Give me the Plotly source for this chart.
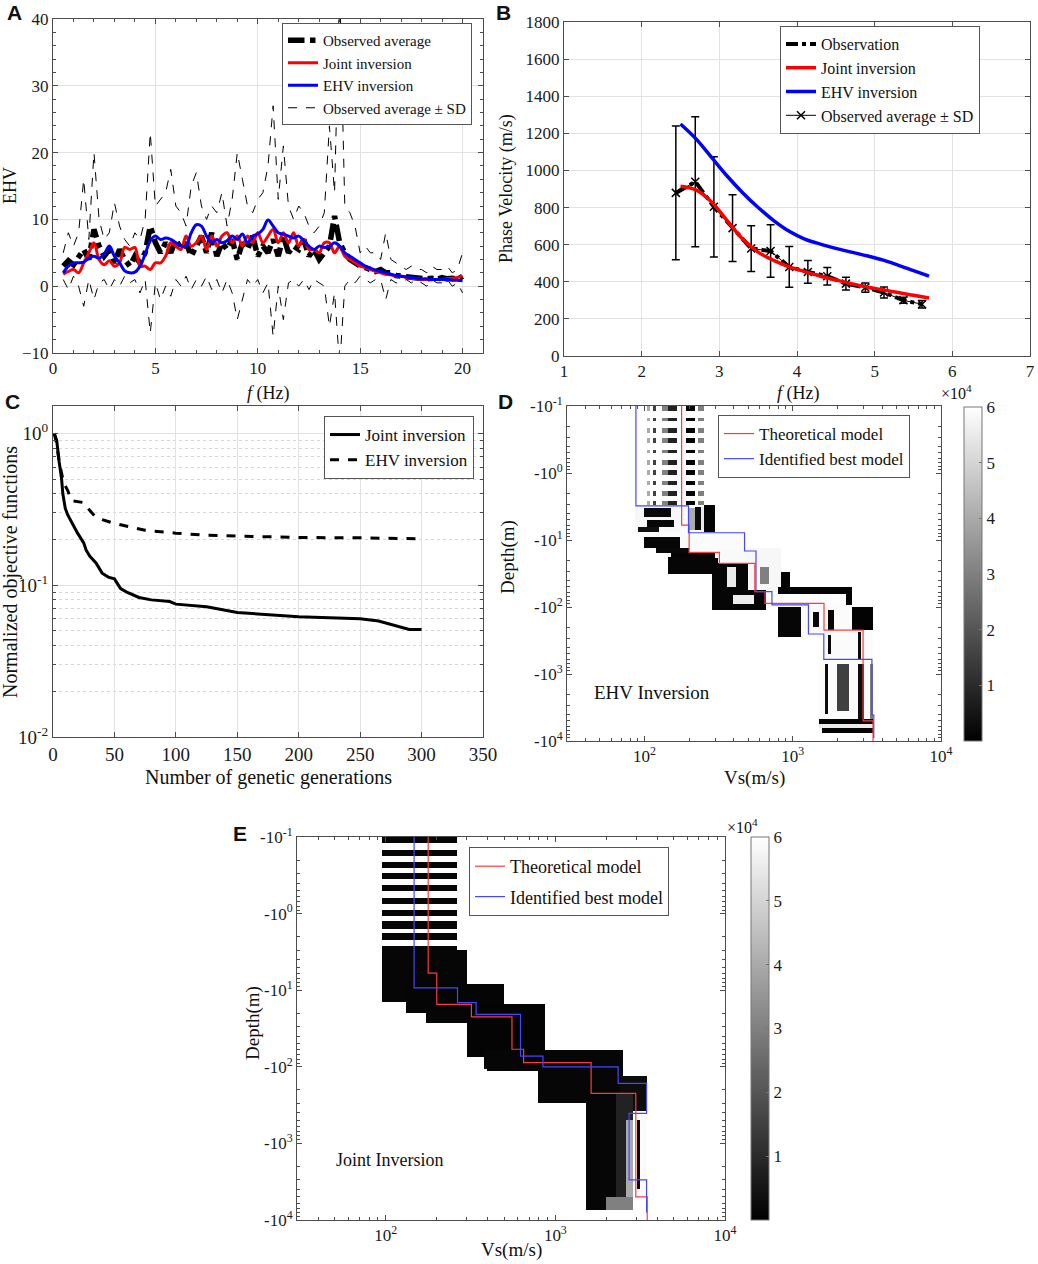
import numpy as np
import plotly.graph_objects as go

W, H = 1038, 1264
SERIF = "Liberation Serif"
SANS = "Liberation Sans"

# ---------------- Panel A : EHV curves ----------------
freq_a = [0.5, 0.75,
          1.0, 1.25, 1.5, 1.75,
          2.0, 2.25, 2.5, 2.75,
          3.0, 3.25, 3.5, 3.75,
          4.0, 4.25, 4.5, 4.75,
          5.0, 5.25, 5.5, 5.75,
          6.0, 6.25, 6.5, 6.75,
          7.0, 7.25, 7.5, 7.75,
          8.0, 8.25, 8.5, 8.75,
          9.0, 9.25, 9.5, 9.75,
          10.0, 10.25, 10.5, 10.75,
          11.0, 11.25, 11.5, 11.75,
          12.0, 12.25, 12.5, 12.75,
          13.0, 13.25, 13.5, 13.75,
          14.0, 14.25, 14.5, 14.75,
          15.0, 15.25, 15.5, 15.75,
          16.0, 16.25, 16.5, 16.75,
          17.0, 17.25, 17.5, 17.75,
          18.0, 18.25, 18.5, 18.75,
          19.0, 19.25, 19.5, 19.75,
          20.0]
ehv_observed = [3.0, 3.8,
                3.2, 4.5, 5.5, 4.0,
                8.5, 6.0, 4.5, 5.5,
                3.5, 5.5, 4.0, 3.0,
                4.5, 3.5, 5.0, 9.0,
                6.5, 5.0, 6.5, 5.0,
                7.0, 5.5, 6.5, 4.5,
                6.0, 7.5, 5.0, 8.0,
                4.5, 6.5, 5.5, 7.0,
                4.0, 6.5, 5.5, 7.5,
                4.5, 6.0, 5.0, 7.0,
                4.5, 7.5, 5.0, 6.0,
                5.5, 7.0, 4.5, 5.5,
                4.0, 5.0, 6.0, 10.5,
                6.5, 5.0, 4.0, 3.5,
                3.0, 2.8, 2.5, 2.2,
                2.5, 2.0, 2.0, 1.6,
                1.5, 1.4, 1.3, 1.2,
                1.3, 1.1, 1.2, 1.0,
                1.3, 1.1, 1.2, 1.0,
                1.5]
ehv_joint = [1.8, 2.2,
             2.5, 2.0, 3.5, 5.0,
             6.5, 4.0, 3.2, 3.8,
             3.0, 3.5, 5.8, 5.5,
             5.8, 3.0, 3.0, 2.5,
             3.5, 3.5, 4.5, 6.5,
             6.0, 5.5, 7.5, 6.0,
             6.5, 7.5, 5.5, 7.5,
             6.0, 7.5, 8.0, 6.5,
             7.5, 6.0, 7.5, 6.5,
             8.0, 6.5, 7.5, 8.5,
             6.5, 8.0, 6.5, 8.0,
             6.0, 7.0, 5.5, 5.5,
             5.0, 6.5, 6.5, 5.0,
             6.0, 4.5, 4.0, 3.5,
             3.0, 2.8, 2.5, 2.2,
             2.0, 1.8, 1.7, 1.5,
             1.5, 1.3, 1.2, 1.1,
             1.0, 1.0, 1.0, 1.0,
             1.0, 1.1, 1.2, 1.3,
             1.5]
ehv_ehv = [2.0, 3.0,
           3.5, 3.5, 3.6, 4.2,
           4.5, 4.2, 4.8, 6.0,
           4.5, 3.5, 2.3, 2.0,
           2.1, 3.0, 4.8, 6.8,
           7.5, 7.0, 7.2, 7.0,
           6.5, 6.0, 6.0, 8.0,
           9.2, 9.0, 7.5, 6.5,
           7.0, 6.5, 6.8, 7.5,
           7.0, 7.8, 6.5, 7.5,
           7.8, 8.5, 9.9, 9.0,
           8.0, 7.8, 7.5, 7.2,
           7.5, 6.8, 6.0, 5.5,
           6.0, 5.8, 6.0, 6.5,
           6.0, 5.0, 4.5, 4.0,
           3.5, 3.0, 2.7, 2.4,
           2.2, 2.0, 1.8, 1.6,
           1.5, 1.4, 1.3, 1.2,
           1.1, 1.1, 1.0, 1.0,
           1.0, 1.0, 0.9, 0.9,
           0.8]
ehv_sd_upper = [5, 8,
                6, 8, 16, 7,
                20, 10, 7, 8,
                12.5, 9, 7, 6,
                8, 7, 10, 23,
                12, 13, 14, 17.5,
                12, 11, 9, 15,
                17, 12, 10, 12,
                11, 14, 9, 13,
                20, 16, 12, 11,
                13, 14, 18, 27,
                13, 21, 12, 10,
                12, 11, 9, 8,
                9, 11, 24, 14,
                45, 12, 11, 9,
                5, 6, 5, 5,
                4, 8, 4, 3.5,
                3, 2.5, 3, 2.5,
                2.5, 2, 3, 2.5,
                2.5, 3, 2, 2.5,
                5]
ehv_sd_lower = [1, -0.5,
                1.5, 0, -3, 1,
                -2, 0.5, 1, -0.5,
                1, 0, 1.5, 0.5,
                1, -1, 1, -7,
                0.5, -2, 0, -1.5,
                1, 0, 1.5, -0.5,
                1, 0, 1.5, -0.5,
                1, -1, 1, -1,
                -5, -2, 1, 0,
                1, -1, 0.5, -7.5,
                0, -5, 0.5, 1,
                0, 1, -0.5, 1,
                0.5, 0, -6, -1,
                -12, 0, 1, 0.5,
                1.5, 1, 0.5, 1,
                1, -2, 1, 0.5,
                0.5, 1, 0.5, 1,
                0.5, 0, 1, 0.5,
                0.5, 1, 0, 0.5,
                -1]

# ---------------- Panel B : dispersion ----------------
freq_b_obs = [2.44, 2.69, 2.93, 3.17, 3.41, 3.66, 3.90, 4.14, 4.39, 4.63, 4.88, 5.12, 5.37, 5.61]
vel_b_obs = [879, 939, 804, 689, 579, 566, 480, 453, 430, 390, 369, 342, 300, 279]
vel_b_sd = [360, 350, 270, 180, 123, 142, 110, 61, 47, 34, 25, 30, 16, 20]
freq_b_model = [2.5, 2.7, 2.9, 3.1, 3.3, 3.5, 3.7, 3.9, 4.1, 4.3, 4.5, 4.7, 4.9, 5.1, 5.3, 5.5, 5.7]
vel_b_joint = [915, 895, 830, 730, 630, 560, 515, 480, 455, 430, 410, 390, 372, 357, 342, 327, 313]
vel_b_ehv = [1250, 1170, 1070, 970, 880, 800, 730, 672, 630, 603, 580, 560, 540, 518, 490, 460, 430]

# ---------------- Panel C : convergence ----------------
gen_joint = [1, 3, 5, 7, 8, 10, 12, 15, 20, 25, 27, 30, 35, 40, 45, 50, 55, 60, 70, 80,
             95, 100, 125, 150, 175, 200, 225, 250, 265, 275, 290, 300]
obj_joint = [1.0, 0.9, 0.65, 0.5, 0.4, 0.32, 0.29, 0.26, 0.22, 0.19, 0.17, 0.155, 0.14, 0.12,
             0.113, 0.11, 0.095, 0.09, 0.083, 0.08, 0.078, 0.075, 0.072, 0.066, 0.064, 0.062,
             0.061, 0.06, 0.058, 0.055, 0.051, 0.051]
gen_ehv = [1, 3, 5, 8, 10, 12, 15, 25, 30, 35, 40, 50, 75, 100, 125, 150, 200, 250, 300]
obj_ehv = [1.0, 0.85, 0.65, 0.5, 0.45, 0.42, 0.36, 0.35, 0.31, 0.28, 0.27, 0.255, 0.23, 0.22,
           0.213, 0.21, 0.206, 0.205, 0.202]

# ---------------- Panels D/E : layered models ----------------
theo_vs = [178, 200, 320, 555, 650, 1625, 2980, 3480]
theo_bottom = [6.0, 15.3, 22.3, 59, 88, 222, 5000, 10000]
best_ehv_vs = [87.5, 198, 473, 565, 724, 1276, 1620, 3420, 3520]
best_ehv_bottom = [3.1, 7.8, 14.6, 59, 93, 253, 604, 4100, 9000]
best_joint_vs = [147, 265, 341, 623, 845, 2345, 3450, 2720, 3450]
best_joint_bottom = [9.3, 14.5, 20.7, 72.6, 100, 165, 406, 3000, 8000]

# density of sampled models: (Vs low, Vs high, depth top, depth bottom, count)
ehv_top_bands = [(0.102, 0.117), (0.148, 0.171), (0.215, 0.247), (0.304, 0.352), (0.443, 0.509),
                 (0.625, 0.733), (0.90, 1.05), (1.30, 1.51), (1.86, 2.18), (2.62, 3.0)]
ehv_top_columns = [(103, 109, 40000), (115, 122, 15000), (134, 142, 30000),
                   (146, 163, 8000), (187, 215, 1000), (227, 251, 30000)]
ehv_blocks = [
    (88, 170, 3.0, 7.6, 58000), (100, 150, 3.4, 4.4, 2000), (105, 160, 5.0, 6.4, 1500),
    (92, 125, 6.4, 7.6, 4000), (170, 200, 3.0, 7.6, 59500), (200, 215, 3.3, 7.0, 40000),
    (215, 240, 3.2, 7.0, 2500), (240, 255, 3.2, 7.0, 55000), (255, 295, 3.0, 7.5, 1000),
    (99, 480, 7.6, 14, 59000), (320, 480, 14, 22, 58500), (100, 170, 9, 13, 1500),
    (120, 200, 13, 16, 2000), (150, 300, 16, 19, 1000), (200, 320, 19, 22, 1500),
    (146, 283, 18, 31, 1500), (480, 830, 13, 60, 58000), (600, 700, 25, 45, 30000),
    (830, 950, 30, 55, 1000), (283, 550, 22, 60, 1500), (370, 420, 25, 50, 55000),
    (500, 550, 22, 60, 58000), (290, 650, 56, 111, 1500), (400, 560, 65, 90, 56000),
    (800, 2460, 50, 62, 1000), (800, 2300, 62, 100, 59500), (2300, 2460, 55, 120, 1000),
    (810, 1130, 100, 280, 1500), (1130, 2460, 95, 280, 59000), (1400, 1500, 120, 200, 2000),
    (1750, 1900, 110, 250, 1500), (2460, 3520, 100, 230, 800), (1580, 3520, 230, 620, 59000),
    (1700, 1800, 260, 500, 2000), (2700, 2900, 240, 600, 2000), (1530, 3520, 620, 4800, 59000),
    (1620, 1700, 700, 4000, 2500), (1950, 2350, 700, 3500, 15000), (2800, 2950, 700, 4800, 3000),
    (3300, 3500, 700, 4800, 30000), (1530, 3520, 4800, 5600, 1000), (1530, 3520, 5600, 6300, 55000),
    (1600, 3520, 6300, 7400, 1000),
]
joint_top_bands = [(0.100, 0.122), (0.146, 0.175), (0.206, 0.246), (0.295, 0.353), (0.427, 0.511),
                   (0.617, 0.741), (0.888, 1.06), (1.28, 1.54), (1.82, 2.18), (2.67, 3.19),
                   (3.78, 4.49)]
joint_top_columns = [(95, 268, 1500)]
joint_blocks = [
    (95, 303, 3.0, 14, 1500), (134, 490, 8.5, 20, 1200), (170, 300, 20, 27, 1500),
    (300, 870, 15, 75, 1000), (400, 980, 60, 110, 1200), (385, 2540, 60, 105, 1500),
    (790, 2540, 105, 300, 1500), (2345, 3450, 130, 370, 3000), (1480, 2250, 220, 7300, 1500),
    (2250, 2900, 220, 7300, 8000), (2600, 2900, 500, 7300, 40000), (2900, 3450, 400, 5000, 59000),
    (3050, 3150, 500, 4000, 2000), (2000, 2900, 5000, 7300, 30000),
]
cbar_ticks = [10000, 20000, 30000, 40000, 50000, 60000]
cbar_labels = ["1", "2", "3", "4", "5", "6"]

# ---------------- helpers ----------------
x_edges = np.logspace(np.log10(30), 4, 127)
y_edges = np.logspace(-1, 4, 201)
xc = np.sqrt(x_edges[:-1] * x_edges[1:])
yc = np.sqrt(y_edges[:-1] * y_edges[1:])


def density(bands, columns, blocks):
    z = np.full((len(yc), len(xc)), np.nan)
    for (t, b) in bands:
        for (lo, hi, c) in columns:
            z[np.ix_((yc >= t) & (yc <= b), (xc >= lo) & (xc <= hi))] = c
    for (lo, hi, t, b, c) in blocks:
        z[np.ix_((yc >= t) & (yc <= b), (xc >= lo) & (xc <= hi))] = c
    return z


def step_profile(vs, bottoms):
    xs = [vs[0]] + list(vs[1:]) + [vs[-1]]
    ys = [0.1] + list(bottoms)
    return xs, ys


def dx(a, b):
    return [a / W, b / W]


def dy(top, bot):
    return [1 - bot / H, 1 - top / H]


AX = "#4d4d4d"
base = dict(showline=True, linecolor=AX, linewidth=1, mirror="ticks", ticks="inside", ticklen=5,
            tickcolor=AX, tickwidth=1, zeroline=False, showgrid=True, gridcolor="#e2e2e2",
            automargin=False, tickfont=dict(family=SERIF, size=17, color="#1a1a1a"))
minor_in = dict(ticks="inside", ticklen=3, tickcolor=AX, showgrid=False)

fig = go.Figure()

# ---- A ----
fig.add_trace(go.Scatter(x=freq_a, y=ehv_sd_upper, mode="lines", name="Observed average ± SD",
                         line=dict(color="black", width=1, dash="dash"), legend="legend",
                         legendrank=4, xaxis="x", yaxis="y"))
fig.add_trace(go.Scatter(x=freq_a, y=ehv_sd_lower, mode="lines", showlegend=False,
                         line=dict(color="black", width=1, dash="dash"), xaxis="x", yaxis="y"))
fig.add_trace(go.Scatter(x=freq_a, y=ehv_observed, mode="lines", name="Observed average",
                         line=dict(color="black", width=5.5, dash="dashdot"), legend="legend",
                         legendrank=1, xaxis="x", yaxis="y"))
fig.add_trace(go.Scatter(x=freq_a, y=ehv_joint, mode="lines", name="Joint inversion",
                         line=dict(color="#ff0000", width=3, shape="spline"), legend="legend",
                         legendrank=2, xaxis="x", yaxis="y"))
fig.add_trace(go.Scatter(x=freq_a, y=ehv_ehv, mode="lines", name="EHV inversion",
                         line=dict(color="#0000ff", width=3, shape="spline"), legend="legend",
                         legendrank=3, xaxis="x", yaxis="y"))

# ---- B ----
fig.add_trace(go.Scatter(x=freq_b_obs, y=vel_b_obs, mode="lines+markers", name="Observed average ± SD",
                         line=dict(color="black", width=1),
                         marker=dict(symbol="x-thin-open", size=8, color="black",
                                     line=dict(width=1.5, color="black")),
                         error_y=dict(type="data", array=vel_b_sd, color="black", thickness=1.5, width=4),
                         legend="legend2", legendrank=4, xaxis="x2", yaxis="y2"))
fig.add_trace(go.Scatter(x=freq_b_obs, y=vel_b_obs, mode="lines", name="Observation",
                         line=dict(color="black", width=4, dash="dashdot"),
                         legend="legend2", legendrank=1, xaxis="x2", yaxis="y2"))
fig.add_trace(go.Scatter(x=freq_b_model, y=vel_b_joint, mode="lines", name="Joint inversion",
                         line=dict(color="#ff0000", width=3.5, shape="spline"),
                         legend="legend2", legendrank=2, xaxis="x2", yaxis="y2"))
fig.add_trace(go.Scatter(x=freq_b_model, y=vel_b_ehv, mode="lines", name="EHV inversion",
                         line=dict(color="#0000ff", width=3.5, shape="spline"),
                         legend="legend2", legendrank=3, xaxis="x2", yaxis="y2"))

# ---- C ----
fig.add_trace(go.Scatter(x=gen_joint, y=obj_joint, mode="lines", name="Joint inversion",
                         line=dict(color="black", width=3), legend="legend3", xaxis="x3", yaxis="y3"))
fig.add_trace(go.Scatter(x=gen_ehv, y=obj_ehv, mode="lines", name="EHV inversion",
                         line=dict(color="black", width=3, dash="dash"), legend="legend3",
                         xaxis="x3", yaxis="y3"))

# ---- D ----
cscale = [[0, "#000000"], [1, "#ffffff"]]


def cbar(x0, top, bot):
    return dict(x=x0 / W, xanchor="left", xpad=0, ypad=0, y=1 - (top + bot) / 2 / H, yanchor="middle",
                len=(bot - top), lenmode="pixels", thickness=18, outlinecolor="#777", outlinewidth=1,
                tickmode="array", tickvals=cbar_ticks, ticktext=cbar_labels, ticks="inside", ticklen=3,
                tickcolor="#777", tickfont=dict(family=SERIF, size=17, color="#1a1a1a"))


fig.add_trace(go.Heatmap(x=x_edges, y=y_edges, z=density(ehv_top_bands, ehv_top_columns, ehv_blocks),
                         colorscale=cscale, zmin=0, zmax=60000, hoverinfo="skip",
                         colorbar=cbar(964, 407, 741), xaxis="x4", yaxis="y4"))
tx, ty = step_profile(theo_vs, theo_bottom)
fig.add_trace(go.Scatter(x=tx, y=ty, mode="lines", name="Theoretical model", line_shape="vh",
                         line=dict(color="#ff3a3a", width=1.2), legend="legend4", legendgroup="a",
                         xaxis="x4", yaxis="y4"))
bx, by = step_profile(best_ehv_vs, best_ehv_bottom)
fig.add_trace(go.Scatter(x=bx, y=by, mode="lines", name="Identified best model", line_shape="vh",
                         line=dict(color="#4646ff", width=1.2), legend="legend4", legendgroup="b",
                         xaxis="x4", yaxis="y4"))

# ---- E ----
fig.add_trace(go.Heatmap(x=x_edges, y=y_edges, z=density(joint_top_bands, joint_top_columns, joint_blocks),
                         colorscale=cscale, zmin=0, zmax=60000, hoverinfo="skip",
                         colorbar=cbar(751, 837, 1220), xaxis="x5", yaxis="y5"))
fig.add_trace(go.Scatter(x=tx, y=ty, mode="lines", name="Theoretical model", line_shape="vh",
                         line=dict(color="#ff3a3a", width=1.2), legend="legend5", legendgroup="a",
                         xaxis="x5", yaxis="y5"))
jx, jy = step_profile(best_joint_vs, best_joint_bottom)
fig.add_trace(go.Scatter(x=jx, y=jy, mode="lines", name="Identified best model", line_shape="vh",
                         line=dict(color="#4646ff", width=1.2), legend="legend5", legendgroup="b",
                         xaxis="x5", yaxis="y5"))

# ---------------- layout ----------------
log_x = dict(type="log", range=[np.log10(30), 4], tickvals=[100, 1000, 10000],
             ticktext=["10<sup>2</sup>", "10<sup>3</sup>", "10<sup>4</sup>"], showgrid=False,
             minor=dict(ticks="inside", ticklen=3, tickcolor=AX, dtick="D1"))
depth_y = dict(type="log", range=[4, -1], tickvals=[0.1, 1, 10, 100, 1000, 10000],
               ticktext=["-10<sup>-1</sup>", "-10<sup>0</sup>", "-10<sup>1</sup>", "-10<sup>2</sup>",
                         "-10<sup>3</sup>", "-10<sup>4</sup>"], showgrid=False,
               minor=dict(ticks="inside", ticklen=3, tickcolor=AX, dtick="D1"))


def leg(x0, y0, size, gap=0):
    return dict(x=x0 / W, y=1 - y0 / H, xanchor="left", yanchor="top", bgcolor="white",
                bordercolor="#555", borderwidth=1, font=dict(family=SERIF, size=size, color="#111"),
                tracegroupgap=gap, itemwidth=30)


fig.update_layout(
    width=W, height=H, margin=dict(l=0, r=0, t=0, b=0, pad=0, autoexpand=False),
    paper_bgcolor="white", plot_bgcolor="white",
    xaxis=dict(base, domain=dx(53, 483), anchor="y", range=[0, 21], dtick=5, tick0=0,
               minor=dict(minor_in, dtick=1)),
    yaxis=dict(base, domain=dy(19, 353), anchor="x", range=[-10, 40], dtick=10,
               minor=dict(minor_in, dtick=2)),
    xaxis2=dict(base, domain=dx(564, 1030), anchor="y2", range=[1, 7], dtick=1),
    yaxis2=dict(base, domain=dy(22, 356), anchor="x2", range=[0, 1800], dtick=200),
    xaxis3=dict(base, domain=dx(53, 483), anchor="y3", range=[0, 350], dtick=50,
                tickfont=dict(family=SERIF, size=19, color="#1a1a1a")),
    yaxis3=dict(base, domain=dy(406, 737), anchor="x3", type="log", range=[-2, 0.18],
                tickvals=[0.01, 0.1, 1], ticktext=["10<sup>-2</sup>", "10<sup>-1</sup>", "10<sup>0</sup>"],
                tickfont=dict(family=SERIF, size=19, color="#1a1a1a"),
                minor=dict(ticks="inside", ticklen=3, tickcolor=AX, dtick="D1", showgrid=True,
                           gridcolor="#d6d6d6", griddash="dot")),
    xaxis4=dict(base, **log_x, domain=dx(567, 941), anchor="y4"),
    yaxis4=dict(base, **depth_y, domain=dy(406, 741), anchor="x4"),
    xaxis5=dict(base, **log_x, domain=dx(297, 725), anchor="y5"),
    yaxis5=dict(base, **depth_y, domain=dy(837, 1220), anchor="x5"),
    legend=leg(282, 23, 15),
    legend2=leg(780, 26, 16),
    legend3=leg(324, 416, 17),
    legend4=leg(718, 415, 17, gap=0),
    legend5=leg(469, 847, 18, gap=4),
)

ann = []


def text(x, y, s, size=18, angle=0, family=SERIF, xanchor="center"):
    ann.append(dict(x=x / W, y=1 - y / H, xref="paper", yref="paper", text=s, showarrow=False,
                    textangle=angle, xanchor=xanchor, yanchor="middle",
                    font=dict(family=family, size=size, color="#111")))


# panel letters
for s, x, y in [("A", 14, 13), ("B", 503, 13), ("C", 12, 401), ("D", 505, 401), ("E", 240, 833)]:
    text(x, y, "<b>%s</b>" % s, size=21, family=SANS)
# axis titles
text(10, 186, "EHV", 18, -90)
text(268, 393, "<i>f</i> (Hz)", 18)
text(506, 189, "Phase Velocity (m/s)", 18, -90)
text(798, 393, "<i>f</i> (Hz)", 18)
text(10, 572, "Normalized objective functions", 20, -90)
text(268, 778, "Number of genetic generations", 20)
text(508, 557, "Depth(m)", 19, -90)
text(754, 778, "Vs(m/s)", 19)
text(253, 1023, "Depth(m)", 19, -90)
text(511, 1250, "Vs(m/s)", 19)
# inner labels
text(652, 692, "EHV Inversion", 19)
text(390, 1160, "Joint Inversion", 18)
text(956, 392, "×10<sup>4</sup>", 16)
text(742, 826, "×10<sup>4</sup>", 16)
fig.update_layout(annotations=ann)

fig.write_html("out.html", config={"displayModeBar": False},
               post_script="document.body.style.margin='0';document.body.style.overflow='hidden';")
